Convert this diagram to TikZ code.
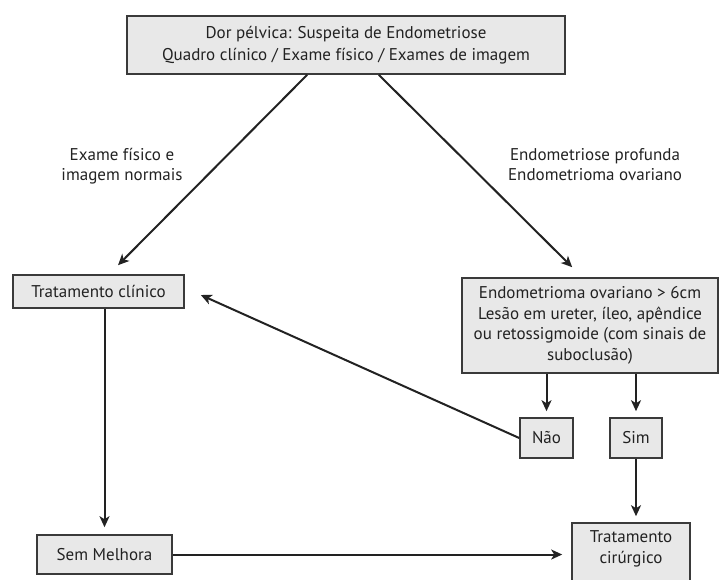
\documentclass[tikz,border=0pt]{standalone}
\usepackage{fontspec}
\setmainfont{PT Sans}
\usetikzlibrary{arrows.meta,calc}
\definecolor{boxfill}{HTML}{E8E8E8}
\definecolor{boxline}{HTML}{3A3A3A}
\definecolor{ink}{HTML}{222222}
\tikzset{
  flowbox/.style={draw=boxline, fill=boxfill, line width=1.6pt, inner sep=0pt,
    align=center, text=ink, font=\fontsize{17}{20.5}\selectfont},
  label text/.style={align=center, text=ink, font=\fontsize{17}{20}\selectfont},
  flow/.style={draw=ink, line width=2pt, -{Stealth[length=11pt,width=10pt,inset=3pt]}},
}
\begin{document}
\begin{tikzpicture}[x=1pt,y=-1pt]
\useasboundingbox (0,0) rectangle (719,579);
% boxes
\node[flowbox, minimum width=438pt, minimum height=58pt,
      font=\fontsize{17}{22}\selectfont] (top) at (346,45)
  {Dor pélvica: Suspeita de Endometriose\\Quadro clínico / Exame físico / Exames de imagem};
\node[flowbox, minimum width=171pt, minimum height=33pt] (clin) at (98.5,291.5)
  {Tratamento clínico};
\node[flowbox, minimum width=256pt, minimum height=95pt] (crit) at (590,325.5)
  {Endometrioma ovariano > 6cm\\Lesão em ureter, íleo, apêndice\\ou retossigmoide (com sinais de\\suboclusão)};
\node[flowbox, minimum width=53pt, minimum height=40pt] (nao) at (546.5,438) {Não};
\node[flowbox, minimum width=52pt, minimum height=40pt] (sim) at (636,438) {Sim};
\node[flowbox, minimum width=135pt, minimum height=39pt] (sem) at (104.5,554.5) {Sem Melhora};
\node[flowbox, minimum width=118pt, minimum height=72pt, text depth=0pt,
      font=\fontsize{17}{21}\selectfont] (cir) at (631,559)
  {Tratamento\\cirúrgico\\[3pt]};
% branch labels
\node[label text] (lblL) at (122,166) {Exame físico e\\imagem normais};
\node[label text] (lblR) at (595,165) {Endometriose profunda\\Endometrioma ovariano};
% connectors
\draw[flow] ($(top.south west)+(181,0)$) -- ($(clin.north)+(19.5,-9)$);
\draw[flow] ($(top.south east)+(-187,0)$) -- ($(crit.north west)+(111,-10)$);
\draw[flow] (crit.south -| nao.north) -- ($(nao.north)+(0,-6)$);
\draw[flow] (crit.south -| sim.north) -- ($(sim.north)+(0,-6)$);
\draw[flow] (nao.west) -- ($(clin.east)+(16,3.5)$);
\draw[flow] (sem.north |- clin.south) -- ($(sem.north)+(0,-7)$);
\draw[flow] (sim.south) -- ($(sim.south |- cir.north)+(0,-6)$);
\draw[flow] (sem.east) -- ($(cir.west |- sem.east)+(-9,0)$);
\end{tikzpicture}
\end{document}
